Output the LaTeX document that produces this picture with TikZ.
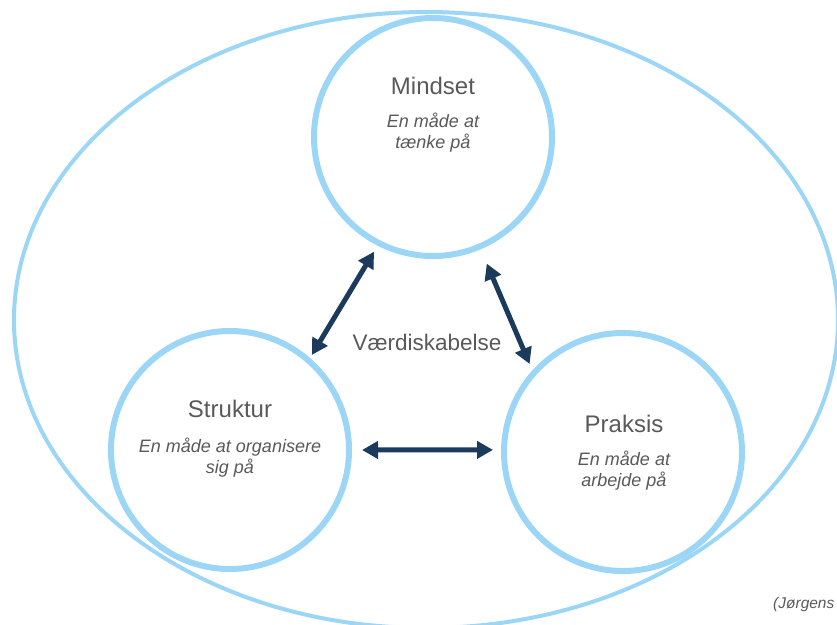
\documentclass[tikz,border=0pt]{standalone}
\usepackage{fontspec}
\setmainfont{Liberation Sans}
\usetikzlibrary{arrows.meta}
\definecolor{ringblue}{HTML}{9BD6F6}
\definecolor{navy}{HTML}{1B3A5C}
\definecolor{textgrey}{HTML}{595959}
\begin{document}
\begin{tikzpicture}[x=1pt,y=-1pt,
  ring/.style={circle,draw=ringblue,line width=6pt,minimum size=238pt,inner sep=0pt},
  title/.style={text=textgrey,font=\fontsize{24}{28}\selectfont},
  subtitle/.style={text=textgrey,align=center,font=\fontsize{18}{21.5}\selectfont\itshape},
  link/.style={draw=navy,line width=5pt,{Triangle[length=16pt,width=17pt]}-{Triangle[length=16pt,width=17pt]}}
]
\useasboundingbox (0,0) rectangle (837,624);
\begin{scope}
\clip (0,0) rectangle (837,624);
% outer frame of value creation
\draw[ringblue,line width=4pt] (426,320) ellipse [x radius=412, y radius=308];
% the three circles
\node[ring] (mindset) at (433,137) {};
\node[ring] (struktur) at (230,450) {};
\node[ring] (praksis) at (623,452) {};
% circle texts (subtitle nodes are anchored on the baseline of their last line)
\node[title,anchor=base] (tm) at (433,94) {Mindset};
\node[subtitle,anchor=base] (sm) at (433,148.5) {En måde at\\tænke på};
\node[title,anchor=base] (ts) at (230,417) {Struktur};
\node[subtitle,anchor=base] (ss) at (230,473.5) {En måde at organisere\\sig på};
\node[title,anchor=base] (tp) at (624,432) {Praksis};
\node[subtitle,anchor=base] (sp) at (624,486.5) {En måde at\\arbejde på};
% centre label
\node[title,font=\fontsize{22.5}{26}\selectfont,anchor=base] (vs) at (427,350) {Værdiskabelse};
% connectors
\draw[link,shorten <=7pt,shorten >=3.5pt] (mindset.243.8) -- (struktur.49.2);
\draw[link,shorten <=15.5pt,shorten >=7pt] (mindset.293.6) -- (praksis.138.1);
\draw[link,shorten <=10pt,shorten >=8pt] (struktur.0) -- (praksis.179);
% source
\node[text=textgrey,font=\fontsize{15.5}{18}\selectfont\itshape,anchor=base west,inner sep=0pt] (src) at (773,608) {(Jørgens};
\end{scope}
\end{tikzpicture}
\end{document}
